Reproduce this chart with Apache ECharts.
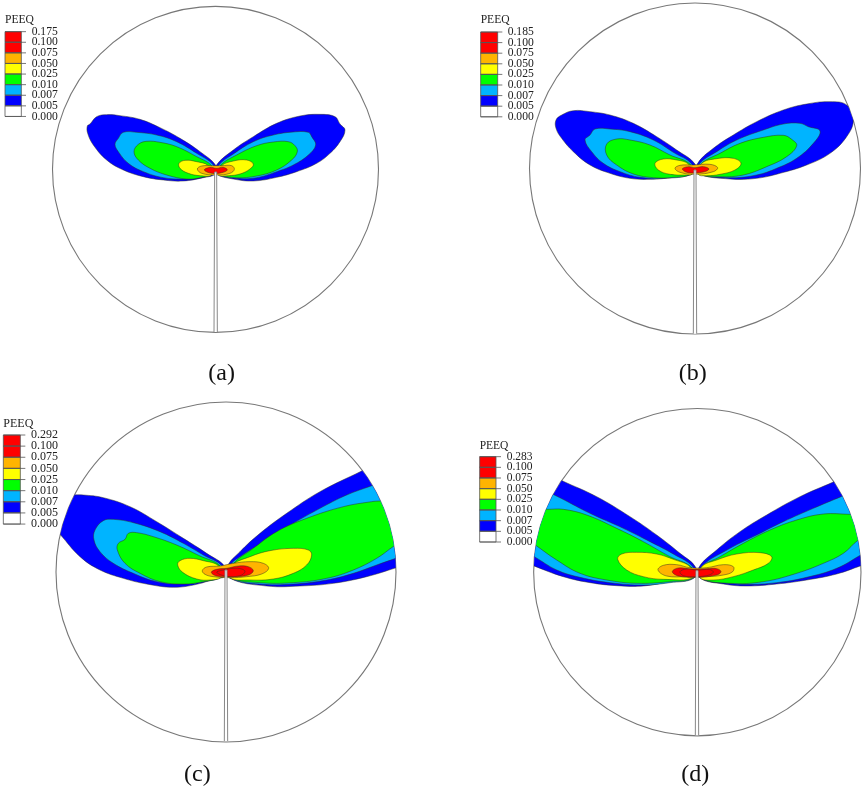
<!DOCTYPE html>
<html>
<head>
<meta charset="utf-8">
<style>html,body{margin:0;padding:0;background:#fff}#main{width:865px;height:789px}</style>
<script src="https://cdn.jsdelivr.net/npm/echarts@6/dist/echarts.min.js"></script>
</head>
<body>
<div id="main"></div>
<script>
// contour outlines, one unit = 1/3 px inside each panel's grid
// outlines that run past the disc edge get clipped by the disc when drawn
const aBlueL = [[648,497],[600,455],[540,415],[480,383],[420,358],[360,347],[320,344],[290,350],[270,372],[262,378],[263,400],[280,435],[320,480],[370,510],[430,530],[490,540],[550,543],[610,533],[645,522]]
const aBlueR = [[648,497],[700,450],[760,410],[830,370],[900,348],[960,343],[1005,350],[1020,372],[1035,390],[1020,425],[990,460],[950,490],[890,515],[830,532],[760,543],[700,537],[650,522]]
const aCyanL = [[640,495],[590,460],[530,425],[470,405],[410,397],[370,397],[355,415],[345,433],[355,455],[385,490],[430,515],[490,533],[550,537],[600,532],[640,520]]
const aCyanR = [[655,497],[700,462],[760,425],[820,405],[880,396],[925,397],[935,410],[947,435],[925,465],[880,495],[830,515],[770,533],[710,535],[655,522]]
const aGreenL = [[635,497],[590,470],[530,440],[480,427],[440,424],[415,433],[402,455],[415,480],[450,505],[500,525],[560,537],[600,533],[635,522]]
const aGreenR = [[660,497],[710,465],[770,437],[820,426],[865,425],[885,437],[892,455],[875,480],[830,510],[770,528],[710,533],[660,522]]
const aYellowL = [[625,497],[590,485],[555,481],[537,490],[540,505],[565,520],[600,527],[635,525]]
const aYellowR = [[665,497],[700,483],[740,480],[760,492],[750,507],[720,522],[685,527],[655,525]]
const aOrange = [[592,507],[605,498],[640,497],[665,497],[695,497],[703,508],[690,520],[650,525],[605,520]]
const aRed = [[613,510],[630,502],[650,505],[670,502],[682,510],[665,518],[635,520]]

const bBlueL = [[795,252],[740,210],[680,170],[610,130],[540,105],[480,95],[430,92],[395,105],[378,120],[378,145],[395,175],[430,215],[480,255],[540,280],[600,295],[660,298],[730,292],[790,280]]
const bBlueR = [[803,250],[850,205],[910,165],[980,125],[1060,90],[1130,72],[1200,65],[1250,75],[1270,120],[1250,170],[1200,220],[1130,255],[1050,280],[980,295],[900,297],[803,280]]
const bCyanL = [[785,252],[730,217],[670,180],[600,155],[540,147],[495,147],[480,165],[465,180],[485,215],[520,250],[570,275],[630,292],[700,295],[785,282]]
const bCyanR = [[808,252],[860,215],[920,180],[1000,150],[1060,132],[1110,130],[1135,140],[1170,153],[1150,190],[1100,235],[1040,265],[980,285],[900,293],[808,282]]
const bGreenL = [[780,252],[720,225],[660,195],[600,180],[560,177],[530,192],[530,225],[560,255],[610,282],[670,293],[730,292],[780,282]]
const bGreenR = [[813,252],[870,220],[930,190],[1000,172],[1060,166],[1085,178],[1100,197],[1070,230],[1010,260],[940,285],[870,290],[813,282]]
const bYellowL = [[775,252],[740,240],[700,237],[675,250],[685,270],[720,283],[770,285],[785,283]]
const bYellowR = [[815,250],[860,236],[910,235],[933,250],[915,270],[870,283],[830,287],[805,283]]
const bOrange = [[735,265],[750,256],[790,255],[840,253],[863,263],[850,275],[795,283],[750,277]]
const bRed = [[757,267],[775,260],[795,263],[820,260],[837,267],[820,276],[775,278]]

const cBlueL = [[675,500],[620,460],[550,415],[470,365],[390,320],[310,293],[250,285],[215,285],[170,285],[130,340],[140,360],[180,403],[240,470],[300,510],[370,535],[440,552],[520,562],[590,553],[650,535],[672,530]]
const cBlueR = [[682,500],[720,455],[780,400],[860,340],[960,275],[1085,213],[1160,175],[1280,300],[1290,470],[1189,503],[1100,530],[1000,550],[900,558],[800,558],[690,535]]
const cCyanL = [[665,497],[610,465],[550,430],[480,395],[400,368],[340,358],[310,362],[285,390],[282,420],[300,455],[340,490],[400,520],[470,545],[550,552],[610,545],[665,530]]
const cCyanR = [[690,497],[720,470],[800,420],[880,370],[960,325],[1040,285],[1113,258],[1170,237],[1280,300],[1290,440],[1187,475],[1130,495],[1060,520],[980,540],[880,552],[780,552],[690,533]]
const cGreenL = [[660,497],[600,468],[530,435],[460,410],[410,398],[385,400],[375,418],[355,430],[352,450],[375,490],[420,520],[480,545],[550,552],[610,545],[660,530]]
const cGreenR = [[695,497],[760,445],[830,395],[920,355],[1030,320],[1115,305],[1140,303],[1200,300],[1280,380],[1240,400],[1182,438],[1130,475],[1060,510],[980,535],[880,548],[780,548],[695,533]]
const cYellowL = [[655,497],[610,482],[570,475],[540,482],[533,495],[548,517],[590,537],[630,540],[665,530]]
const cYellowR = [[695,497],[750,470],[810,452],[880,445],[925,450],[935,465],[920,495],[880,520],[820,537],[750,540],[690,533]]
const cOrange = [[607,512],[620,501],[660,498],[700,490],[750,485],[790,490],[806,505],[785,522],[740,530],[690,533],[640,530],[615,523]]
const cRed = [[634,517],[650,508],[680,505],[715,498],[745,500],[760,512],[745,525],[700,530],[650,528]]
const cRedIn = [[650,517],[670,510],[700,505],[725,507],[735,515],[720,527],[680,529]]

const dBlueL = [[797,502],[750,460],[680,405],[600,350],[500,290],[398,243],[340,215],[230,300],[230,465],[310,497],[400,530],[480,548],[560,557],[640,558],[720,545],[790,535]]
const dBlueR = [[807,502],[860,450],[930,395],[1010,345],[1110,290],[1208,247],[1270,220],[1380,330],[1370,470],[1293,497],[1220,522],[1130,540],[1040,552],[950,558],[880,552],[812,535]]
const dCyanL = [[790,502],[730,462],[660,425],[580,385],[480,340],[373,285],[310,258],[240,350],[240,430],[313,470],[380,510],[450,532],[540,548],[640,555],[720,548],[790,535]]
const dCyanR = [[812,502],[900,445],[980,405],[1060,365],[1150,325],[1233,290],[1300,262],[1380,340],[1370,420],[1292,465],[1220,505],[1130,532],[1040,548],[950,553],[880,548],[812,535]]
const dGreenL = [[785,502],[720,470],[640,425],[560,385],[470,345],[400,328],[352,328],[300,328],[250,380],[260,395],[316,435],[380,480],[450,520],[530,540],[620,550],[720,545],[785,535]]
const dGreenR = [[815,502],[870,470],[940,430],[1020,390],[1100,360],[1180,342],[1258,343],[1320,344],[1370,360],[1340,390],[1285,420],[1240,460],[1180,490],[1100,520],[1000,545],[900,550],[815,535]]
const dYellowL = [[780,500],[730,478],[680,462],[620,457],[575,462],[563,478],[590,510],[640,530],[700,538],[790,533]]
const dYellowR = [[815,500],[860,480],[920,462],[990,458],[1025,470],[1015,490],[970,510],[910,530],[850,540],[810,533]]
const dOrange = [[684,510],[700,496],[740,494],[780,503],[830,503],[880,494],[910,500],[908,515],[880,525],[830,530],[770,530],[710,528]]
const dRed = [[727,515],[745,504],[790,508],[830,506],[860,506],[873,515],[860,525],[800,532],[745,528]]
const dRedIn = [[750,515],[770,507],[800,510],[840,509],[850,517],[830,527],[790,530],[760,527]]

// outer disc [x, y, radius] and the crack running up from its bottom
const discA = [646.5, 508, 489]
const discB = [795, 265.5, 496.5]
const discC = [678, 516, 510]
const discD = [802, 516.5, 491]
const crackA = [[642,996],[644,516],[650,516],[652,996]]
const crackB = [[790,761],[792,270],[798,270],[800,761]]
const crackC = [[673,1023],[675,510],[681,510],[683,1023]]
const crackD = [[796,1006],[798,512],[804,512],[806,1006]]

// legend tick labels
const ticksA = ['0.175','0.100','0.075','0.050','0.025','0.010','0.007','0.005','0.000']
const ticksB = ['0.185','0.100','0.075','0.050','0.025','0.010','0.007','0.005','0.000']
const ticksC = ['0.292','0.100','0.075','0.050','0.025','0.010','0.007','0.005','0.000']
const ticksD = ['0.283','0.100','0.075','0.050','0.025','0.010','0.007','0.005','0.000']
const bandColors = ['#ff0000','#ff0000','#ffb400','#ffff00','#00ff00','#00b4ff','#0000ff','#ffffff']

const BLUE = '#0000ff', CYAN = '#00b4ff', GREEN = '#00ff00', YELLOW = '#ffff00', ORANGE = '#ffb400', RED = '#ff0000'
const EDGE = 'rgba(50,50,30,0.7)'
const FONT = '"Liberation Serif","Times New Roman",serif'

const panels = [
    { off: [0, 0], disc: discA, crack: crackA, ticks: ticksA, caption: '(a)', capAt: [665, 1120],
      legend: { x0: 15, x1: 64, tick: 78, label: 95, top: 95, step: 31.8, head: 61, size: 11.6 },
      layers: [[BLUE,aBlueL],[BLUE,aBlueR],[CYAN,aCyanL],[CYAN,aCyanR],[GREEN,aGreenL],[GREEN,aGreenR],[YELLOW,aYellowL],[YELLOW,aYellowR],[ORANGE,aOrange],[RED,aRed]] },
    { off: [430, 80], disc: discB, crack: crackB, ticks: ticksB, caption: '(b)', capAt: [788, 880],
      legend: { x0: 152, x1: 203, tick: 217, label: 233, top: -144, step: 31.8, head: -180, size: 11.6 },
      layers: [[BLUE,bBlueL],[BLUE,bBlueR],[CYAN,bCyanL],[CYAN,bCyanR],[GREEN,bGreenL],[GREEN,bGreenR],[YELLOW,bYellowL],[YELLOW,bYellowR],[ORANGE,bOrange],[RED,bRed]] },
    { off: [0, 400], disc: discC, crack: crackC, ticks: ticksC, caption: '(c)', capAt: [592, 1125],
      legend: { x0: 10, x1: 61, tick: 76, label: 93, top: 105, step: 33.4, head: 73, size: 12 },
      layers: [[BLUE,cBlueL],[BLUE,cBlueR],[CYAN,cCyanL],[CYAN,cCyanR],[GREEN,cGreenL],[GREEN,cGreenR],[YELLOW,cYellowL],[YELLOW,cYellowR],[ORANGE,cOrange],[RED,cRed],[RED,cRedIn]] },
    { off: [430, 400], disc: discD, crack: crackD, ticks: ticksD, caption: '(d)', capAt: [796, 1125],
      legend: { x0: 149, x1: 198, tick: 213, label: 230, top: 170, step: 32, head: 139, size: 11.5 },
      layers: [[BLUE,dBlueL],[BLUE,dBlueR],[CYAN,dCyanL],[CYAN,dCyanR],[GREEN,dGreenL],[GREEN,dGreenR],[YELLOW,dYellowL],[YELLOW,dYellowR],[ORANGE,dOrange],[RED,dRed],[RED,dRedIn]] }
]

const myChart = echarts.init(document.getElementById('main'), null, { renderer: 'canvas' })
const series = []

panels.forEach(function (p, i) {
    const base = { type: 'custom', xAxisIndex: i, yAxisIndex: i, clip: false, silent: true, animation: false }

    const discShape = function (api) {
        const c = api.coord([p.disc[0], p.disc[1]])
        return { cx: c[0], cy: c[1], r: api.size([p.disc[2], 0])[0] }
    }

    // disc outline
    series.push(Object.assign({}, base, {
        data: [p.disc],
        renderItem: function (params, api) {
            return { type: 'circle', shape: discShape(api), style: { fill: '#fff', stroke: '#777', lineWidth: 1.1 } }
        }
    }))

    // contour bands, outer first
    p.layers.forEach(function (layer) {
        series.push(Object.assign({}, base, {
            data: layer[1],
            renderItem: function (params, api) {
                if (params.dataIndex !== 0) return
                return {
                    type: 'polygon',
                    shape: { points: layer[1].map(function (pt) { return api.coord(pt) }), smooth: 0.4 },
                    clipPath: { type: 'circle', shape: discShape(api) },
                    style: { fill: layer[0], stroke: EDGE, lineWidth: 0.7 }
                }
            }
        }))
    })

    // crack, open at the bottom so it breaks the disc outline
    series.push(Object.assign({}, base, {
        data: p.crack,
        renderItem: function (params, api) {
            if (params.dataIndex !== 0) return
            const pts = p.crack.map(function (pt) { return api.coord(pt) })
            return {
                type: 'group',
                children: [
                    { type: 'polygon', shape: { points: pts }, style: { fill: '#fff' } },
                    { type: 'polyline', shape: { points: pts }, style: { fill: null, stroke: '#888', lineWidth: 1 } }
                ]
            }
        }
    }))

    // legend bar
    const lg = p.legend
    series.push(Object.assign({}, base, {
        data: p.ticks,
        renderItem: function (params, api) {
            const k = params.dataIndex
            const y = lg.top + k * lg.step
            const a = api.coord([lg.x0, y])
            const b = api.coord([lg.x1, y + lg.step])
            const t = api.coord([lg.tick, y])
            const kids = []
            if (k < bandColors.length) {
                kids.push({ type: 'rect', shape: { x: a[0], y: a[1], width: b[0] - a[0], height: b[1] - a[1] },
                    style: { fill: bandColors[k], stroke: '#555', lineWidth: 0.8 } })
            }
            kids.push({ type: 'line', shape: { x1: a[0], y1: a[1], x2: t[0], y2: t[1] }, style: { stroke: '#555', lineWidth: 0.8 } })
            const l = api.coord([lg.label, y])
            kids.push({ type: 'text', style: { text: p.ticks[k], x: l[0], y: l[1], fill: '#222',
                font: lg.size + 'px ' + FONT, textAlign: 'left', textVerticalAlign: 'middle' } })
            if (k === 0) {
                const h = api.coord([lg.x0, lg.head])
                kids.push({ type: 'text', style: { text: 'PEEQ', x: h[0], y: h[1], fill: '#222',
                    font: lg.size + 'px ' + FONT, textAlign: 'left', textVerticalAlign: 'middle' } })
            }
            return { type: 'group', children: kids }
        }
    }))

    // caption
    series.push(Object.assign({}, base, {
        data: [p.caption],
        renderItem: function (params, api) {
            const c = api.coord(p.capAt)
            return { type: 'text', style: { text: p.caption, x: c[0], y: c[1], fill: '#111',
                font: '24px ' + FONT, textAlign: 'center', textVerticalAlign: 'middle' } }
        }
    }))
})

myChart.setOption({
    backgroundColor: '#fff',
    animation: false,
    grid: panels.map(function (p) {
        return { show: false, left: p.off[0], top: p.off[1], width: 430, height: 380 }
    }),
    xAxis: panels.map(function (p, i) {
        return { type: 'value', gridIndex: i, show: false, min: 0, max: 1290, scale: true }
    }),
    yAxis: panels.map(function (p, i) {
        return { type: 'value', gridIndex: i, show: false, min: 0, max: 1140, inverse: true, scale: true }
    }),
    series: series
})
</script>
</body>
</html>
